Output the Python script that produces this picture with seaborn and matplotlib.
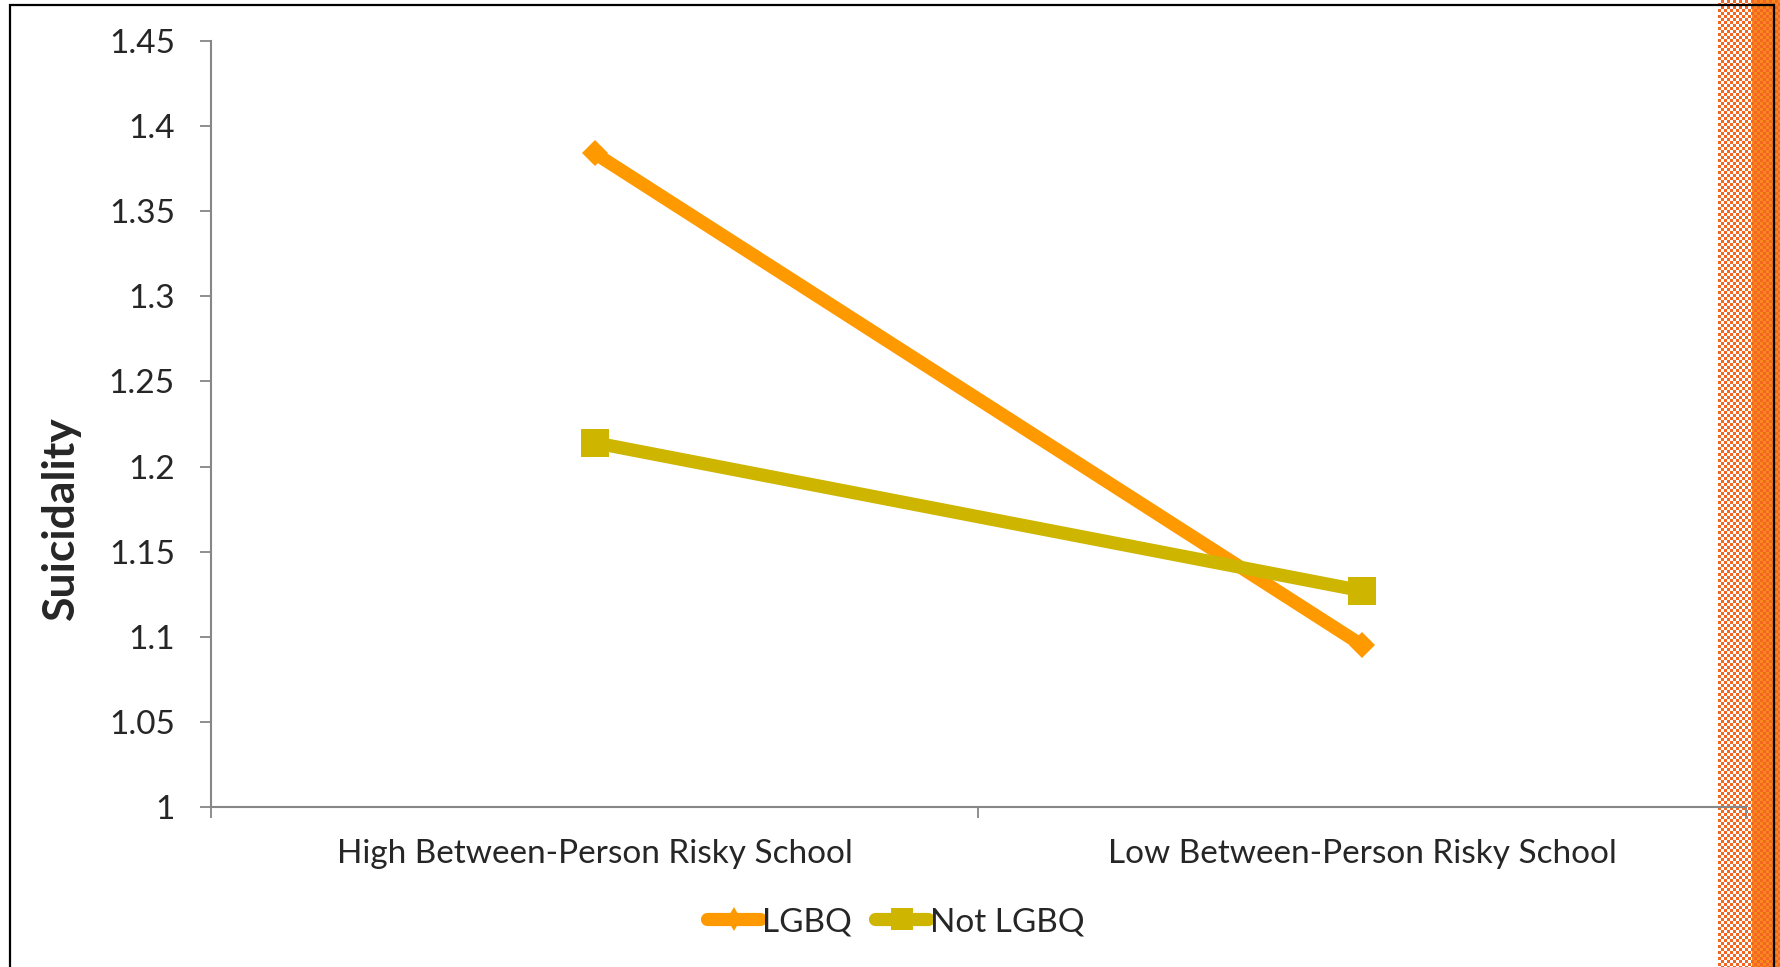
import numpy as np
import pandas as pd
import matplotlib
matplotlib.use("Agg")
import matplotlib.pyplot as plt
import seaborn as sns
from matplotlib.patches import Rectangle
from matplotlib.lines import Line2D
from matplotlib.ticker import FixedLocator, FuncFormatter, NullFormatter

# ---- data -------------------------------------------------------------
schools = ["High Between-Person Risky School", "Low Between-Person Risky School"]
groups = ["LGBQ", "Not LGBQ"]
lgbq = [1.384, 1.095]
not_lgbq = [1.214, 1.127]
y_ticks = [1.0, 1.05, 1.1, 1.15, 1.2, 1.25, 1.3, 1.35, 1.4, 1.45]

colors = {"LGBQ": "#FF9900", "Not LGBQ": "#CDB500"}
markers = {"LGBQ": "D", "Not LGBQ": "s"}

df = pd.DataFrame({
    "school": schools * 2,
    "pos": list(range(len(schools))) * 2,
    "group": [groups[0]] * len(schools) + [groups[1]] * len(schools),
    "suicidality": lgbq + not_lgbq,
})

# ---- style ------------------------------------------------------------
sns.set_theme(style="white")
plt.rcParams["font.family"] = ["Lato", "DejaVu Sans"]
AXIS_GREY = "#868686"
FS = 24

W, H = 1781, 967
fig = plt.figure(figsize=(W / 100, H / 100), dpi=100)
fig.patch.set_facecolor("white")

# decorative orange edge on the right: dotted fade, then a solid band
edge_x0 = 1718
edge_w = W - edge_x0
rows, cols = np.mgrid[0:H, 0:edge_w]
checker = ((rows // 3 + cols // 3) % 2) > 0
img = np.ones((H, edge_w, 4))
orange_a = np.array([0.95, 0.40, 0.13])
orange_b = np.array([0.97, 0.53, 0.12])
solid_start = 1752 - edge_x0
for c in range(edge_w):
    on = checker[:, c]
    back = 1.0 if c < solid_start else orange_b
    img[:, c, :3] = np.where(on[:, None], orange_a, back)
edge_ax = fig.add_axes([edge_x0 / W, 0, edge_w / W, 1], zorder=-5)
edge_ax.imshow(img, aspect="auto", interpolation="nearest")
edge_ax.axis("off")

# ---- main axes --------------------------------------------------------
ax = fig.add_axes([211 / W, 1 - 807 / H, (1746 - 211) / W, (807 - 41) / H])
ax.set_facecolor("none")

sns.lineplot(
    data=df, x="pos", y="suicidality", hue="group", style="group",
    palette=colors, markers=markers, dashes=False, linewidth=9.5,
    markersize=20, markeredgewidth=0, legend=False, ax=ax,
)
for line, g in zip(ax.lines, groups):
    line.set_solid_capstyle("butt")
    if markers[g] == "D":
        line.set_markersize(13.7)

ax.set_xlim(-0.5, len(schools) - 0.5)
ax.set_ylim(y_ticks[0], y_ticks[-1])
ax.set_xlabel("")
ax.set_ylabel("Suicidality", fontsize=32, fontweight="bold", labelpad=20)
ax.yaxis.label.set_y(0.377)

ax.yaxis.set_major_locator(FixedLocator(y_ticks))
ax.yaxis.set_major_formatter(FuncFormatter(lambda v, p: f"{v:g}"))
ax.xaxis.set_major_locator(FixedLocator(np.arange(-0.5, len(schools), 1.0)))
ax.xaxis.set_major_formatter(NullFormatter())
ax.xaxis.set_minor_locator(FixedLocator(range(len(schools))))
ax.set_xticklabels(schools, minor=True)

ax.tick_params(axis="y", which="major", direction="out", length=8, width=1.3,
               color=AXIS_GREY, labelsize=FS, pad=18, left=True)
ax.tick_params(axis="x", which="major", direction="out", length=8, width=1.3,
               color=AXIS_GREY, bottom=True)
ax.tick_params(axis="x", which="minor", length=0, labelsize=FS, pad=23)

for side in ("top", "right"):
    ax.spines[side].set_visible(False)
for side in ("left", "bottom"):
    ax.spines[side].set_color(AXIS_GREY)
    ax.spines[side].set_linewidth(1.5)

# ---- legend -----------------------------------------------------------
handles = [
    Line2D([], [], color=colors["LGBQ"], lw=9.5, marker="d", markersize=12,
           markeredgewidth=0, solid_capstyle="round"),
    Line2D([], [], color=colors["Not LGBQ"], lw=9.5, marker="s", markersize=16.5,
           markeredgewidth=0, solid_capstyle="round"),
]
fig.legend(handles, groups, loc="center", bbox_to_anchor=(0.503, 1 - 922 / H),
           ncol=2, frameon=False, fontsize=FS, handlelength=1.6,
           handletextpad=0.05, columnspacing=0.7)

# ---- outer frame ------------------------------------------------------
fig.add_artist(Rectangle((10 / W, -0.05), (1774 - 10) / W, 1.05 - 5 / H,
                         transform=fig.transFigure, fill=False,
                         edgecolor="black", linewidth=1.6, zorder=10))

fig.savefig("out.png", dpi=100)
